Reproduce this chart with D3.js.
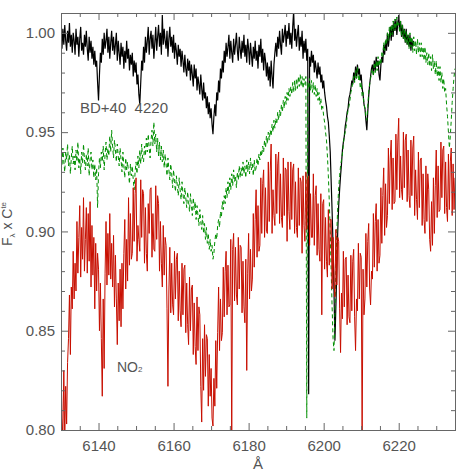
<!DOCTYPE html>
<html><head><meta charset="utf-8">
<script src="https://cdn.jsdelivr.net/npm/d3@7/dist/d3.min.js"></script>
<style>
html,body{margin:0;padding:0;background:#fff;}
text{font-family:"Liberation Sans",Arial,Helvetica,sans-serif;fill:#555;}
</style></head>
<body>
<svg id="chart" width="472" height="472"></svg>
<script>
// Wavelength sampling (Å)
const lambdaStart = 6130;
const lambdaStep = 0.25;

// Tick labels
const xTickValues = [6140, 6160, 6180, 6200, 6220];
const yTickValues = [0.80, 0.85, 0.90, 0.95, 1.00];

// BD+40 4220 spectrum (black), 6130–6224 Å
const bdStar = [
0.999,0.992,1.002,0.994, 1.004,0.996,0.991,1.001, 0.995,1.005,0.993,0.999, 0.990,1.000,0.996,0.989,
1.002,0.994,0.998,0.988, 0.997,1.003,0.991,0.995, 0.989,0.999,0.993,1.001, 0.992,0.986,0.998,0.990,
0.996,0.987,0.993,0.984, 0.991,0.983,0.986,0.975, 0.966,0.979,0.990,0.985, 0.997,0.989,1.000,0.992,
0.996,1.002,0.990,0.998, 0.987,0.995,1.001,0.991, 0.998,0.989,0.994,1.000, 0.986,0.996,0.990,0.984,
0.995,0.988,0.993,0.982, 0.991,0.985,0.996,0.987, 0.992,0.981,0.989,0.984, 0.990,0.978,0.986,0.980,
0.985,0.974,0.979,0.969, 0.964,0.975,0.986,0.981, 0.993,0.985,0.998,0.990, 0.996,1.003,0.989,0.997,
1.001,0.992,0.999,0.987, 0.995,1.003,0.991,0.998, 1.004,0.993,1.000,0.989, 1.009,0.994,1.002,0.996,
0.992,1.001,0.988,0.997, 1.003,0.993,0.998,0.990, 0.999,0.987,0.995,0.991, 0.984,0.994,0.988,0.992,
0.983,0.991,0.986,0.980, 0.989,0.982,0.978,0.987, 0.981,0.986,0.976,0.984, 0.979,0.973,0.984,0.977,
0.982,0.971,0.978,0.974, 0.969,0.979,0.972,0.966, 0.975,0.967,0.970,0.962, 0.968,0.959,0.965,0.957,
0.962,0.954,0.949,0.958, 0.964,0.958,0.970,0.966, 0.976,0.970,0.982,0.977, 0.986,0.980,0.991,0.985,
0.995,0.988,0.993,0.999, 0.987,0.996,0.990,0.985, 0.997,0.989,0.994,1.000, 0.991,0.986,0.998,0.992,
0.987,0.996,0.990,0.999, 0.988,0.994,0.985,0.997, 0.992,0.984,0.995,0.989, 0.983,0.993,0.987,0.996,
0.986,0.991,0.982,0.994, 0.988,0.997,0.985,0.992, 0.981,0.990,0.986,0.978, 0.985,0.976,0.983,0.973,
0.986,0.978,0.972,0.984, 0.990,0.995,0.988,0.998, 0.992,1.001,0.994,0.989, 1.002,0.995,0.999,1.004,
0.993,1.001,0.997,1.005, 0.994,1.000,0.992,1.003, 1.011,0.996,1.002,0.993, 0.999,1.004,0.991,0.998,
0.993,1.001,0.987,0.996, 0.990,0.997,0.986,0.992, 0.818,0.988,0.983,0.991, 0.985,0.989,0.980,0.986,
0.982,0.977,0.985,0.979, 0.983,0.975,0.979,0.972, 0.976,0.970,0.966,0.963, 0.958,0.955,0.948,0.940,
0.925,0.910,0.893,0.870, 0.845,0.862,0.880,0.900, 0.913,0.921,0.928,0.934, 0.941,0.945,0.948,0.953,
0.956,0.960,0.962,0.967, 0.969,0.972,0.976,0.974, 0.980,0.976,0.983,0.978, 0.984,0.979,0.982,0.976,
0.979,0.972,0.969,0.964, 0.962,0.956,0.951,0.960, 0.968,0.974,0.978,0.982, 0.984,0.979,0.986,0.981,
0.988,0.983,0.986,0.979, 0.976,0.984,0.988,0.985, 0.994,0.989,0.996,0.991, 1.000,0.993,0.998,1.003,
0.996,1.004,0.998,1.006, 1.001,1.007,0.999,1.005, 1.009,1.001,1.006,0.998, 1.004,0.997,1.002,0.995,
1.002,0.994,0.999,0.993, 0.999,0.991,0.997,0.993, 0.996
];

// Comparison spectrum (green dashed), 6130–6235 Å
const greenSpec = [
0.939,0.933,0.942,0.935, 0.930,0.940,0.936,0.944, 0.933,0.939,0.929,0.937, 0.943,0.934,0.938,0.931,
0.941,0.935,0.945,0.932, 0.937,0.929,0.940,0.934, 0.944,0.936,0.931,0.939, 0.933,0.942,0.928,0.936,
0.940,0.931,0.936,0.927, 0.934,0.926,0.932,0.912, 0.929,0.937,0.932,0.940, 0.935,0.943,0.931,0.939,
0.945,0.936,0.942,0.938, 0.948,0.940,0.951,0.943, 0.937,0.946,0.941,0.935, 0.944,0.938,0.933,0.942,
0.936,0.930,0.940,0.933, 0.927,0.937,0.931,0.935, 0.929,0.924,0.934,0.928, 0.933,0.926,0.921,0.930,
0.935,0.929,0.938,0.932, 0.941,0.934,0.944,0.937, 0.935,0.943,0.938,0.947, 0.940,0.949,0.942,0.937,
0.946,0.951,0.943,0.955, 0.944,0.949,0.940,0.947, 0.938,0.945,0.936,0.943, 0.935,0.941,0.932,0.939,
0.934,0.928,0.937,0.931, 0.926,0.934,0.929,0.922, 0.931,0.925,0.920,0.928, 0.923,0.918,0.927,0.921,
0.916,0.925,0.919,0.914, 0.922,0.917,0.912,0.920, 0.915,0.910,0.919,0.913, 0.908,0.917,0.911,0.915,
0.906,0.913,0.908,0.903, 0.911,0.905,0.901,0.908, 0.899,0.904,0.896,0.902, 0.894,0.899,0.891,0.896,
0.890,0.893,0.886,0.889, 0.895,0.899,0.896,0.903, 0.906,0.902,0.910,0.907, 0.915,0.911,0.918,0.914,
0.922,0.917,0.925,0.919, 0.927,0.921,0.929,0.923, 0.931,0.925,0.928,0.922, 0.930,0.926,0.933,0.927,
0.932,0.928,0.935,0.929, 0.933,0.927,0.936,0.930, 0.935,0.929,0.937,0.931, 0.934,0.928,0.936,0.930,
0.932,0.937,0.933,0.939, 0.936,0.941,0.938,0.943, 0.940,0.946,0.942,0.948, 0.944,0.950,0.946,0.951,
0.948,0.954,0.950,0.956, 0.952,0.957,0.954,0.960, 0.956,0.961,0.958,0.964, 0.960,0.966,0.962,0.968,
0.964,0.970,0.966,0.972, 0.968,0.973,0.969,0.975, 0.970,0.976,0.971,0.977, 0.972,0.978,0.973,0.979,
0.973,0.978,0.972,0.977, 0.974,0.978,0.806,0.975, 0.972,0.977,0.971,0.976, 0.970,0.975,0.969,0.974,
0.968,0.972,0.966,0.970, 0.964,0.967,0.961,0.963, 0.958,0.955,0.950,0.946, 0.938,0.928,0.915,0.900,
0.880,0.862,0.846,0.840, 0.858,0.880,0.900,0.912, 0.922,0.928,0.933,0.936, 0.939,0.944,0.948,0.950,
0.953,0.958,0.961,0.963, 0.966,0.970,0.972,0.975, 0.978,0.975,0.981,0.977, 0.983,0.976,0.979,0.972,
0.975,0.968,0.970,0.964, 0.962,0.958,0.956,0.963, 0.970,0.974,0.977,0.980, 0.982,0.978,0.985,0.980,
0.986,0.981,0.988,0.983, 0.987,0.984,0.990,0.988, 0.995,0.991,0.997,0.994, 1.000,0.996,1.003,0.998,
1.004,0.999,1.006,1.001, 1.007,1.002,1.008,1.003, 1.005,1.000,1.006,0.998, 1.004,0.997,1.002,0.995,
1.001,0.994,0.999,0.992, 1.000,0.993,0.998,0.990, 0.998,0.991,0.996,0.989, 0.997,0.990,0.995,0.988,
0.995,0.988,0.993,0.986, 0.993,0.985,0.990,0.984, 0.990,0.983,0.988,0.981, 0.989,0.982,0.986,0.979,
0.986,0.978,0.983,0.976, 0.983,0.975,0.980,0.972, 0.977,0.970,0.972,0.964, 0.958,0.950,0.942,0.948,
0.956,0.965,0.972,0.978, 0.982
];

// NO2 spectrum (red), 6130–6235 Å
const no2Spec = [
0.838,0.806,0.797,0.830, 0.795,0.822,0.803,0.834, 0.846,0.868,0.838,0.872, 0.861,0.890,0.866,0.884,
0.870,0.905,0.879,0.897, 0.913,0.877,0.902,0.886, 0.917,0.880,0.896,0.912, 0.879,0.909,0.885,0.915,
0.872,0.903,0.878,0.897, 0.861,0.894,0.870,0.889, 0.881,0.850,0.874,0.846, 0.817,0.866,0.831,0.879,
0.905,0.873,0.899,0.878, 0.909,0.876,0.894,0.872, 0.898,0.862,0.888,0.866, 0.843,0.874,0.855,0.881,
0.852,0.884,0.861,0.889, 0.906,0.871,0.896,0.875, 0.917,0.883,0.909,0.886, 0.889,0.922,0.895,0.919,
0.927,0.885,0.903,0.896, 0.890,0.926,0.897,0.921, 0.919,0.884,0.912,0.889, 0.880,0.914,0.899,0.921,
0.922,0.887,0.909,0.891, 0.890,0.923,0.896,0.918, 0.914,0.880,0.905,0.884, 0.872,0.903,0.878,0.897,
0.893,0.861,0.822,0.870, 0.892,0.859,0.884,0.863, 0.858,0.890,0.866,0.886, 0.889,0.855,0.880,0.860,
0.852,0.884,0.858,0.881, 0.883,0.849,0.874,0.853, 0.843,0.877,0.850,0.871, 0.873,0.838,0.864,0.842,
0.833,0.867,0.840,0.862, 0.858,0.822,0.804,0.846, 0.820,0.853,0.827,0.848, 0.846,0.812,0.838,0.817,
0.831,0.806,0.802,0.826, 0.812,0.845,0.821,0.849, 0.872,0.840,0.866,0.845, 0.849,0.882,0.857,0.880,
0.890,0.858,0.883,0.862, 0.863,0.896,0.795,0.891, 0.899,0.865,0.892,0.868, 0.863,0.897,0.871,0.893,
0.892,0.859,0.885,0.862, 0.854,0.886,0.830,0.879, 0.899,0.866,0.891,0.870, 0.876,0.909,0.882,0.906,
0.921,0.887,0.913,0.890, 0.893,0.927,0.899,0.924, 0.931,0.897,0.922,0.900, 0.899,0.935,0.905,0.930,
0.944,0.899,0.921,0.908, 0.903,0.939,0.909,0.934, 0.940,0.904,0.929,0.907, 0.902,0.937,0.908,0.932,
0.931,0.895,0.935,0.910, 0.901,0.935,0.906,0.931, 0.934,0.899,0.925,0.902, 0.897,0.932,0.903,0.927,
0.925,0.889,0.928,0.903, 0.895,0.930,0.901,0.926, 0.928,0.893,0.919,0.897, 0.897,0.929,0.893,0.918,
0.923,0.888,0.914,0.891, 0.885,0.919,0.858,0.914, 0.916,0.881,0.907,0.885, 0.877,0.911,0.883,0.906,
0.906,0.871,0.897,0.875, 0.867,0.901,0.873,0.897, 0.895,0.861,0.839,0.869, 0.856,0.890,0.862,0.886,
0.887,0.853,0.878,0.857, 0.854,0.888,0.860,0.885, 0.891,0.857,0.840,0.866, 0.860,0.894,0.866,0.889,
0.887,0.795,0.881,0.858, 0.866,0.899,0.872,0.895, 0.904,0.871,0.863,0.880, 0.876,0.909,0.882,0.905,
0.914,0.880,0.906,0.884, 0.888,0.922,0.894,0.918, 0.932,0.898,0.924,0.902, 0.908,0.942,0.914,0.937,
0.946,0.911,0.937,0.914, 0.915,0.949,0.921,0.945, 0.957,0.917,0.938,0.921, 0.916,0.950,0.922,0.946,
0.949,0.915,0.941,0.918, 0.912,0.946,0.918,0.942, 0.948,0.908,0.931,0.916, 0.906,0.940,0.912,0.936,
0.937,0.903,0.929,0.906, 0.899,0.933,0.905,0.929, 0.921,0.896,0.890,0.915, 0.893,0.927,0.899,0.923,
0.941,0.907,0.933,0.910, 0.911,0.945,0.917,0.941, 0.943,0.909,0.935,0.912, 0.905,0.939,0.911,0.935,
0.942,0.908,0.934,0.911, 0.927
];

const L = 61, R = 455, T = 13, B = 430;
const axisColor = "#666";

const svg = d3.select("#chart");
const x = d3.scaleLinear().domain([6130, 6235]).range([L, R]);
const y = d3.scaleLinear().domain([0.80, 1.01]).range([B, T]);

svg.append("defs").append("clipPath").attr("id", "plotClip")
  .append("rect").attr("x", L).attr("y", T).attr("width", R - L).attr("height", B - T);

const line = d3.line()
  .x((d, i) => x(lambdaStart + i * lambdaStep))
  .y(d => y(d));

const g = svg.append("g").attr("clip-path", "url(#plotClip)");
const series = [
  {data: bdStar, color: "#000000", dash: null, w: 1.2},
  {data: greenSpec, color: "#008f00", dash: "4,3", w: 1},
  {data: no2Spec, color: "#c80e00", dash: null, w: 1}
];
series.forEach(s => {
  g.append("path").datum(s.data)
    .attr("d", line).attr("fill", "none")
    .attr("stroke", s.color).attr("stroke-width", s.w)
    .attr("stroke-dasharray", s.dash);
});

// Axes (ticks inward on all four sides)
const minorX = [6135, 6145, 6150, 6155, 6165, 6170, 6175, 6185, 6190, 6195, 6205, 6210, 6215, 6225, 6230];
const minorY = [0.81, 0.82, 0.83, 0.84, 0.86, 0.87, 0.88, 0.89, 0.91, 0.92, 0.93, 0.94, 0.96, 0.97, 0.98, 0.99, 1.01];

function styleAxis(sel) {
  sel.select(".domain").attr("stroke", axisColor);
  sel.selectAll(".tick line").attr("stroke", axisColor);
  sel.selectAll(".tick text").attr("fill", "#555").style("font-size", "15px")
     .style("font-family", '"Liberation Sans", Arial, sans-serif');
}

svg.append("g").attr("transform", `translate(0,${B})`)
  .call(d3.axisBottom(x).tickValues(xTickValues).tickSize(-7).tickPadding(10).tickFormat(d3.format("d"))).call(styleAxis);
svg.append("g").attr("transform", `translate(0,${B})`)
  .call(d3.axisBottom(x).tickValues(minorX).tickSize(-4).tickFormat("")).call(styleAxis);
svg.append("g").attr("transform", `translate(0,${T})`)
  .call(d3.axisTop(x).tickValues(xTickValues).tickSize(-7).tickFormat("")).call(styleAxis);
svg.append("g").attr("transform", `translate(0,${T})`)
  .call(d3.axisTop(x).tickValues(minorX).tickSize(-4).tickFormat("")).call(styleAxis);
svg.append("g").attr("transform", `translate(${L},0)`)
  .call(d3.axisLeft(y).tickValues(yTickValues).tickSize(-7).tickPadding(6).tickFormat(d3.format(".2f"))).call(styleAxis);
svg.append("g").attr("transform", `translate(${L},0)`)
  .call(d3.axisLeft(y).tickValues(minorY).tickSize(-4).tickFormat("")).call(styleAxis);
svg.append("g").attr("transform", `translate(${R},0)`)
  .call(d3.axisRight(y).tickValues(yTickValues).tickSize(-7).tickFormat("")).call(styleAxis);
svg.append("g").attr("transform", `translate(${R},0)`)
  .call(d3.axisRight(y).tickValues(minorY).tickSize(-4).tickFormat("")).call(styleAxis);

// Axis titles
svg.append("text").attr("x", 258).attr("y", 469).attr("text-anchor", "middle")
  .style("font-size", "15px").text("Å");

const yt = svg.append("text").attr("transform", "translate(12,224) rotate(-90)")
  .attr("text-anchor", "middle").style("font-size", "14px");
yt.append("tspan").text("F");
yt.append("tspan").attr("dy", 3).style("font-size", "8px").text("λ");
yt.append("tspan").attr("dy", -3).text(" x C");
yt.append("tspan").attr("dy", -6).style("font-size", "8px").text("te");

// Annotations
svg.append("text").attr("x", 80).attr("y", 113).style("font-size", "15px")
  .attr("xml:space", "preserve").style("white-space", "pre").text("BD+40  4220");
const no2 = svg.append("text").attr("x", 117).attr("y", 372).style("font-size", "14px");
no2.append("tspan").text("NO");
no2.append("tspan").style("font-size", "8px").text("2");
</script>
</body></html>
